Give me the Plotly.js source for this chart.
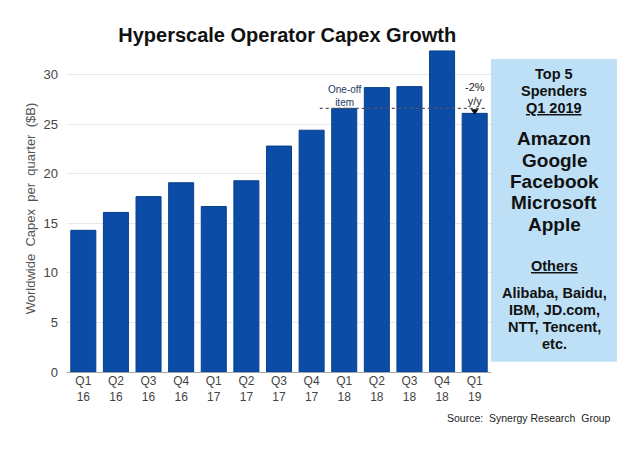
<!DOCTYPE html>
<html>
<head>
<meta charset="utf-8">
<script src="https://cdn.plot.ly/plotly-3.0.1.min.js"></script>
<style>html,body{margin:0;padding:0;background:#fff;}#chart{width:641px;height:449px;}</style>
</head>
<body>
<div id="chart"></div>
<script>
const quarters = ["Q1<br>16","Q2<br>16","Q3<br>16","Q4<br>16","Q1<br>17","Q2<br>17","Q3<br>17","Q4<br>17","Q1<br>18","Q2<br>18","Q3<br>18","Q4<br>18","Q1<br>19"];
const capex = [14.3, 16.1, 17.7, 19.1, 16.7, 19.3, 22.8, 24.4, 26.6, 28.7, 28.8, 32.4, 26.1];
const yTicks = [0, 5, 10, 15, 20, 25, 30];
const topSpenders = ["Amazon", "Google", "Facebook", "Microsoft", "Apple"];
const others = ["Alibaba, Baidu,", "IBM, JD.com,", "NTT, Tencent,", "etc."];
const oneOffLevel = capex[8];

const FONT = "Liberation Sans, Arial, sans-serif";

const bars = {
  type: "bar",
  x: quarters,
  y: capex,
  marker: {color: "#0B4DA6", line: {color: "#083F8C", width: 1}},
  hoverinfo: "x+y"
};
const arrow = {
  type: "scatter",
  mode: "markers",
  x: [quarters[12]],
  y: [(oneOffLevel + capex[12]) / 2],
  marker: {symbol: "triangle-down", size: 7, color: "#000"},
  hoverinfo: "skip"
};

const annotations = [];
function panelText(text, py, size) {
  annotations.push({
    xref: "paper", yref: "paper", x: 1.149, y: (372 - py) / 327,
    xanchor: "center", yanchor: "middle", showarrow: false,
    text: "<b>" + text + "</b>",
    font: {family: FONT, size: size, color: "#111"}
  });
}
panelText("Top 5", 74, 14.5);
panelText("Spenders", 91, 14.5);
panelText("<u>Q1 2019</u>", 108, 14.5);
const spY = [138, 160, 181, 203, 224];
topSpenders.forEach((s, i) => panelText(s, spY[i], 19));
panelText("<u>Others</u>", 266, 14.5);
const oY = [293, 310, 327, 344];
others.forEach((s, i) => panelText(s, oY[i], 14.5));

annotations.push({
  xref: "x", yref: "y", x: quarters[8], y: 27.9, showarrow: false,
  text: "One-off<br>item", font: {family: FONT, size: 10, color: "#1F3864"},
  xanchor: "center", yanchor: "middle"
});
annotations.push({
  xref: "x", yref: "y", x: quarters[12], y: 28.1, showarrow: false,
  text: "-2%<br>y/y", font: {family: FONT, size: 11, color: "#222"},
  xanchor: "center", yanchor: "middle"
});
annotations.push({
  xref: "paper", yref: "paper", x: 1.288, y: -0.141, showarrow: false,
  text: "Source:  Synergy Research  Group", font: {family: FONT, size: 10.5, color: "#222"},
  xanchor: "right", yanchor: "middle"
});

const layout = {
  width: 641, height: 449,
  margin: {l: 67, r: 150, t: 45, b: 77},
  paper_bgcolor: "#fff", plot_bgcolor: "#fff",
  showlegend: false,
  bargap: 0.233,
  title: {
    text: "<b>Hyperscale Operator Capex Growth</b>",
    font: {family: FONT, size: 20, color: "#111"},
    xref: "container", yref: "container", x: 0.448, y: 0.922,
    xanchor: "center", yanchor: "middle"
  },
  xaxis: {
    type: "category",
    range: [-0.5, 12.5],
    showgrid: false,
    showline: false,
    ticks: "",
    tickfont: {family: FONT, size: 12, color: "#444"},
    fixedrange: true
  },
  yaxis: {
    range: [0, 33],
    tickvals: yTicks,
    showgrid: true, gridcolor: "#E8E8E8", gridwidth: 1,
    zeroline: true, zerolinecolor: "#A6A6A6", zerolinewidth: 1,
    showline: false,
    ticks: "",
    ticklabelstandoff: 8,
    tickfont: {family: FONT, size: 13, color: "#444"},
    title: {text: "Worldwide  Capex  per  quarter  ($B)", font: {family: FONT, size: 13, color: "#555"}, standoff: 4},
    fixedrange: true
  },
  shapes: [
    {type: "rect", xref: "paper", yref: "paper", x0: 1.0, x1: 1.297, y0: 0.031, y1: 0.957,
     fillcolor: "#BDE0F7", line: {width: 0}, layer: "below"},
    {type: "line", xref: "x", yref: "y", x0: 7.25, x1: 12.4, y0: oneOffLevel, y1: oneOffLevel,
     line: {color: "#555", width: 1.2, dash: "dot"}}
  ],
  annotations: annotations
};

Plotly.newPlot("chart", [bars, arrow], layout, {displayModeBar: false, staticPlot: true});
</script>
</body>
</html>
